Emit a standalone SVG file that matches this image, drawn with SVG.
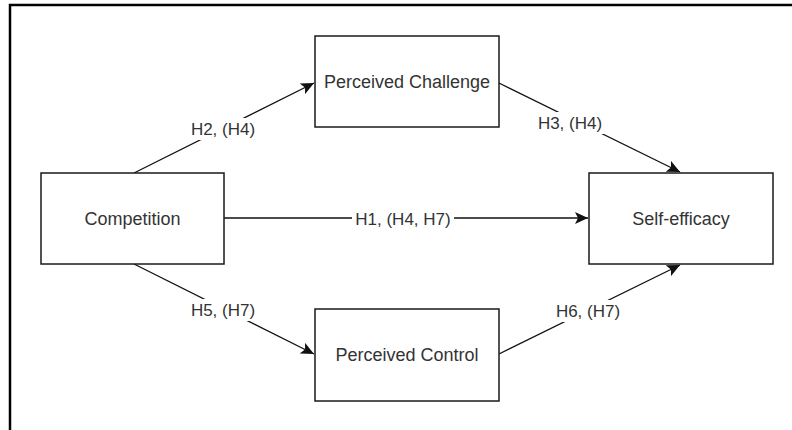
<svg xmlns="http://www.w3.org/2000/svg" width="792" height="430" viewBox="0 0 792 430">
  <style>
    .node rect { fill: #ffffff; stroke: #1a1a1a; stroke-width: 1.5; }
    .node text { font-family: "Liberation Sans", Arial, sans-serif; font-size: 18px; fill: #333333; text-anchor: middle; dominant-baseline: central; }
    .edge line { stroke: #111111; stroke-width: 1.3; fill: none; marker-end: url(#arrow); }
    .lbl rect { fill: #ffffff; stroke: none; }
    .lbl text { font-family: "Liberation Sans", Arial, sans-serif; font-size: 17px; fill: #333333; text-anchor: middle; dominant-baseline: central; }
    .frame { stroke: #000000; stroke-width: 2.5; fill: none; }
  </style>
  <defs>
    <marker id="arrow" markerUnits="userSpaceOnUse" markerWidth="14" markerHeight="12" viewBox="0 0 14 12" refX="13" refY="6" orient="auto">
      <path d="M0,0 L13,6 L0,12 L3,6 Z" fill="#111111"/>
    </marker>
  </defs>
  <rect width="792" height="430" fill="#ffffff"/>
  <path class="frame" d="M10,430 L10,5 L792,5"/>

  <g id="connectors">
    <g class="edge">
      <line x1="134" y1="173" x2="314" y2="83"/>
      <line x1="499" y1="83" x2="680" y2="172"/>
      <line x1="224" y1="218" x2="588" y2="218"/>
      <line x1="134" y1="264" x2="314" y2="354"/>
      <line x1="499" y1="354" x2="680" y2="265"/>
    </g>
    <g class="lbl">
      <rect x="190" y="118" width="66" height="22"/>
      <text x="223" y="129">H2, (H4)</text>
      <rect x="536" y="112" width="68" height="22"/>
      <text x="570" y="123">H3, (H4)</text>
      <rect x="352" y="208" width="102" height="22"/>
      <text x="403" y="219">H1, (H4, H7)</text>
      <rect x="190" y="299" width="66" height="22"/>
      <text x="223" y="310">H5, (H7)</text>
      <rect x="555" y="300" width="66" height="22"/>
      <text x="588" y="311">H6, (H7)</text>
    </g>
  </g>

  <g id="competition" class="node">
    <rect x="41" y="173" width="183" height="91"/>
    <text x="132.5" y="218.5">Competition</text>
  </g>
  <g id="perceived-challenge" class="node">
    <rect x="315" y="36" width="184" height="91"/>
    <text x="407" y="81.5">Perceived Challenge</text>
  </g>
  <g id="self-efficacy" class="node">
    <rect x="589" y="173" width="184" height="91"/>
    <text x="681" y="218.5">Self-efficacy</text>
  </g>
  <g id="perceived-control" class="node">
    <rect x="315" y="309" width="184" height="92"/>
    <text x="407" y="355">Perceived Control</text>
  </g>
</svg>
